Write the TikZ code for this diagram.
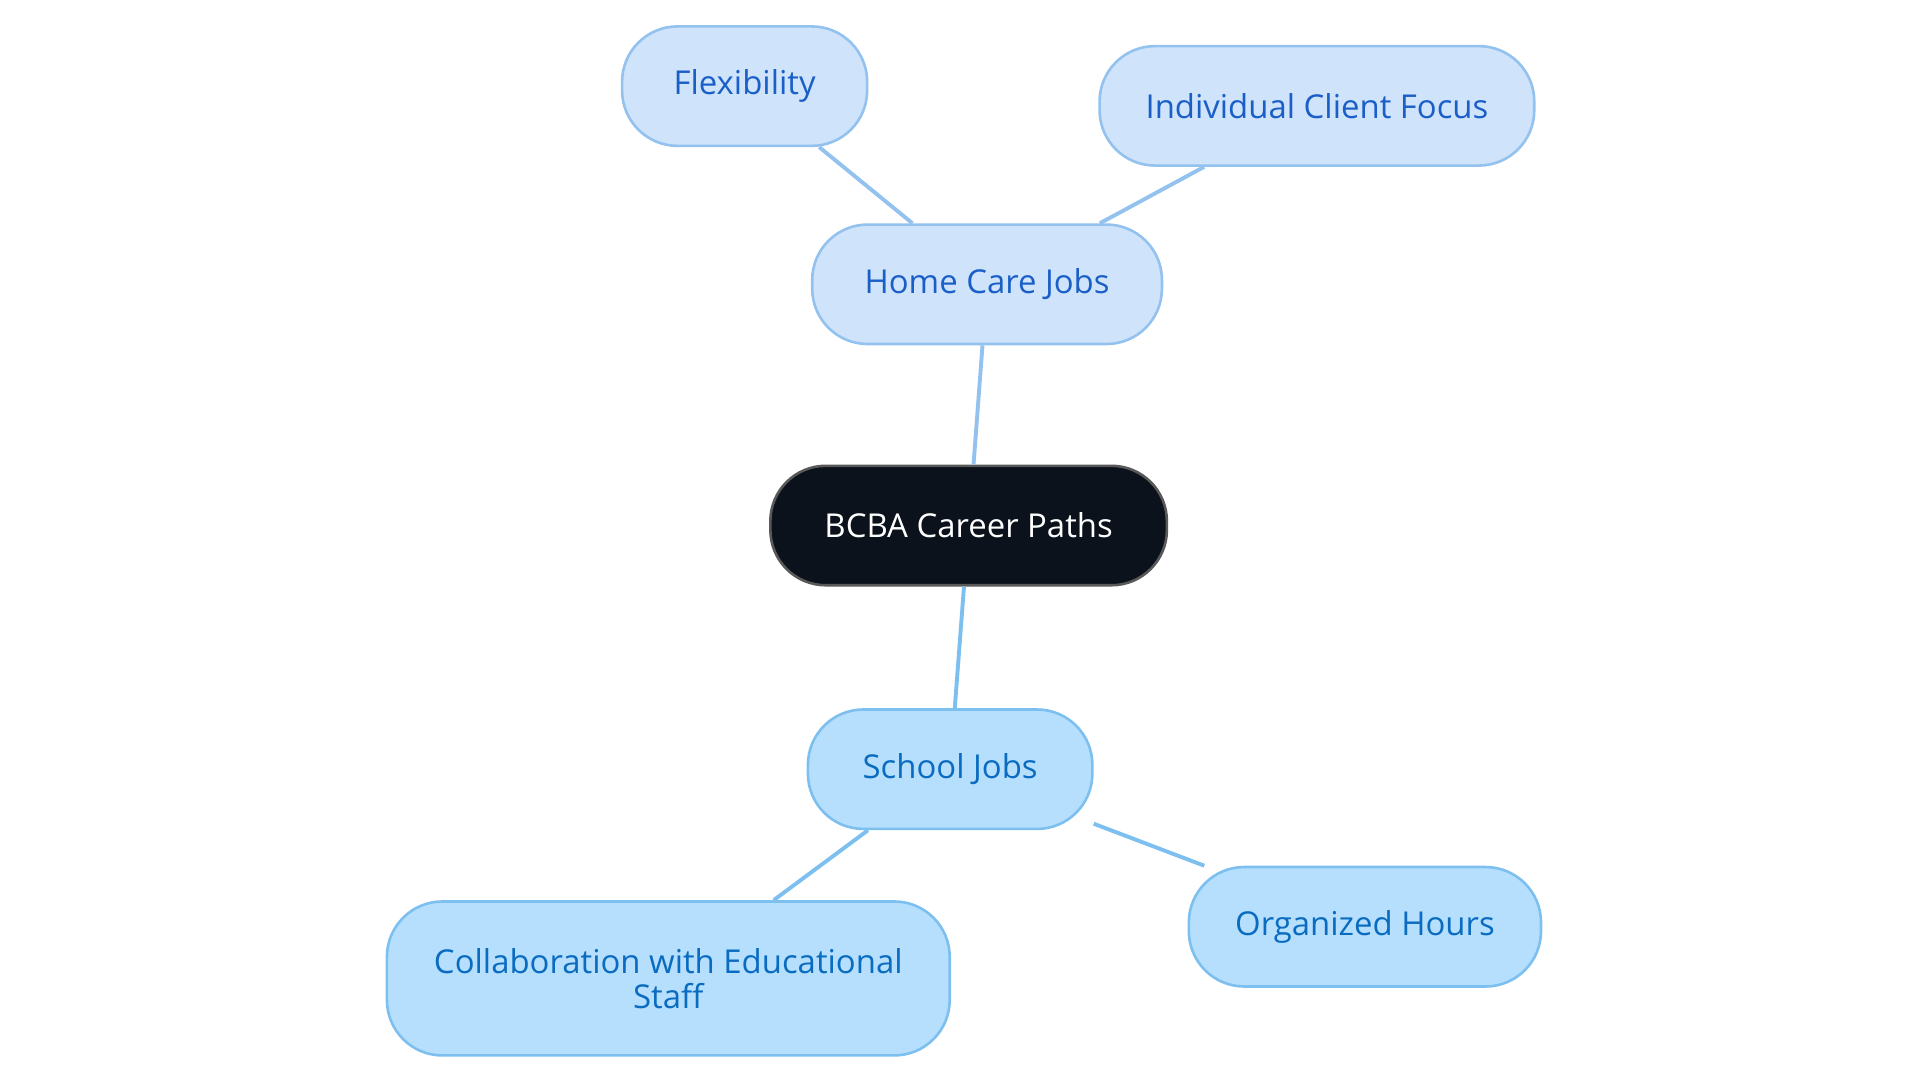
\documentclass[tikz,border=0pt]{standalone}
\usepackage{fontspec}
\setmainfont{Open Sans}
\begin{document}
\begin{tikzpicture}[x=0.01cm,y=-0.01cm,
  box/.style={draw, line width=0.6pt, rounded corners=0.45cm, minimum height=0.97cm, inner sep=0pt, align=center, font=\fontsize{7.6}{8}\selectfont},
  home/.style={box, fill=homefill, draw=homeline, text=hometext},
  school/.style={box, fill=schoolfill, draw=schoolline, text=schooltext},
  hline/.style={draw=homeline, line width=0.9pt},
  sline/.style={draw=schoolline, line width=0.9pt}]
\definecolor{homefill}{HTML}{CFE3FB}
\definecolor{homeline}{HTML}{94C2EF}
\definecolor{hometext}{HTML}{1A5FC8}
\definecolor{schoolfill}{HTML}{B5DFFC}
\definecolor{schoolline}{HTML}{7DC0F0}
\definecolor{schooltext}{HTML}{0A6CC0}
\definecolor{rootfill}{HTML}{0B121B}
\useasboundingbox (0,0) rectangle (1560,880);
\node[box, fill=rootfill, draw=gray!70!black, text=white, minimum width=3.22cm] (root) at (787,427) {BCBA Career Paths};
\node[home, minimum width=2.84cm] (home) at (802,231) {Home Care Jobs};
\node[home, minimum width=1.99cm] (flex) at (605,70) {Flexibility};
\node[home, minimum width=3.53cm] (ind) at (1070,86) {Individual Client Focus};
\node[school, minimum width=2.31cm] (school) at (772,625) {School Jobs};
\node[school, minimum width=4.57cm, minimum height=1.25cm] (collab) at (543,795) {Collaboration with Educational\\Staff};
\node[school, minimum width=2.86cm] (org) at (1109,753) {Organized Hours};
\begin{scope}[on background layer/.try]
\end{scope}
\draw[hline] (root.north) ++(4,0) -- (home);
\draw[hline] (home) -- (flex);
\draw[hline] (home) -- (ind);
\draw[sline] (root) -- (school);
\draw[sline] (school) -- (collab);
\draw[sline] (school) -- (org);
\end{tikzpicture}
\end{document}
